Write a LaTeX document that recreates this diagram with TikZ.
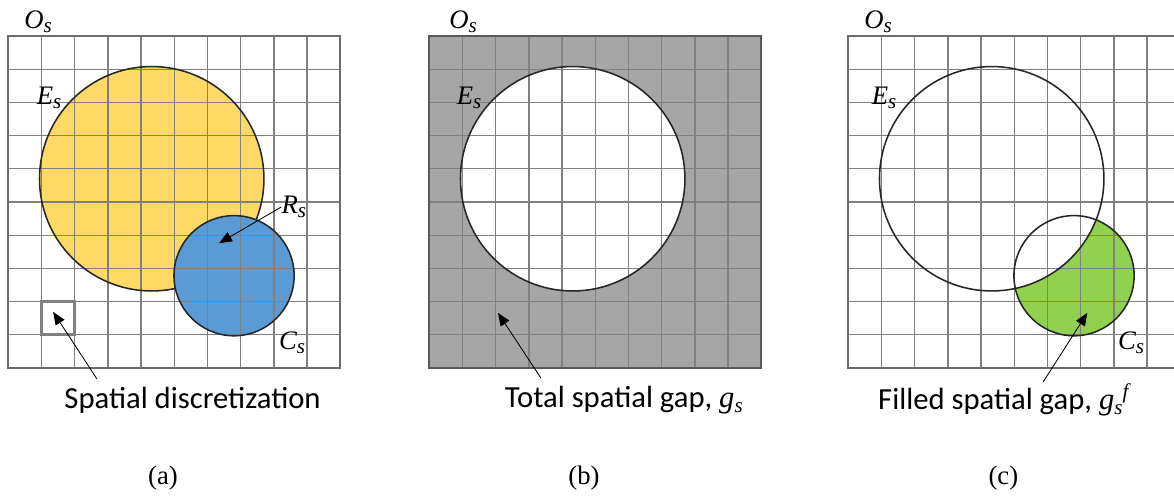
\documentclass[tikz,border=0pt]{standalone}
\usepackage{fontspec}
\setmainfont{Liberation Serif}
\newfontfamily\calib{Carlito}
\usepackage{xcolor}
\usetikzlibrary{arrows.meta,positioning}
\definecolor{gapyellow}{HTML}{FFD966}
\definecolor{gapblue}{HTML}{5B9BD5}
\definecolor{gapgreen}{HTML}{92D050}
\definecolor{gapgray}{HTML}{A6A6A6}
\definecolor{gridgray}{HTML}{808080}
\newcommand{\symb}[2]{{\rmfamily\itshape #1\raisebox{-0.35ex}{\fontsize{15}{15}\selectfont #2}}}
\newcommand{\symsup}[3]{{\rmfamily\itshape #1\raisebox{-0.35ex}{\fontsize{15}{15}\selectfont #2}\raisebox{0.75ex}{\fontsize{15}{15}\selectfont #3}}}

\begin{document}
\begin{tikzpicture}[x=0.83cm, y=0.83cm,
  gridline/.style={gridgray, line width=0.9pt, step={(1,1)}},
  rim/.style={black!85, line width=1.1pt},
  pointer/.style={-{Triangle[length=3.2mm, width=2.6mm]}, line width=0.6pt},
  sym/.style={font=\fontsize{19}{22}\selectfont, inner sep=0pt},
  captext/.style={font=\calib\fontsize{21.8}{24}\selectfont, inner sep=0pt},
  tag/.style={font=\fontsize{19}{22}\selectfont, inner sep=0pt}]
  \useasboundingbox (-0.25,-3.976) rectangle (35.111,11.084);
  \clip (-0.25,-3.976) rectangle (35.111,11.084);
  % E_s and C_s circles, grid units
  \def\ex{4.32} \def\ey{5.70} \def\er{3.38}
  \def\cx{6.80} \def\cy{2.78} \def\cr{1.81}
  % (a) discretization
  \begin{scope}
    \fill[gapyellow] (\ex,\ey) circle (\er);
    \draw[gridline] (0,0) grid (10,10);
    \draw[rim] (\ex,\ey) circle (\er);
    \fill[gapblue] (\cx,\cy) circle (\cr);
    \begin{scope}
      \clip (\cx,\cy) circle (\cr);
      \draw[gridline] (0,0) grid (10,10);
    \end{scope}
    \draw[rim] (\cx,\cy) circle (\cr);
    \draw[gridgray!85!black, line width=1.2pt] (0,0) rectangle (10,10);
    \draw[gray, line width=2.2pt] (1,1) rectangle (2,2);
    \node[sym] (oa) at (0.9,10.42) {\symb{O}{s}};
    \node[sym] (ea) at (1.23,8.13) {\symb{E}{s}};
    \node[sym] (ra) at (8.6,4.85) {\symb{R}{s}};
    \node[sym] (ca) at (8.55,0.75) {\symb{C}{s}};
    \node[captext] (da) at (5.55,-0.96) {Spatial discretization};
    \node[tag] (ta) at (4.66,-3.31) {(a)};
    \coordinate (ratip) at (6.35,3.76);
    \coordinate (datail) at (2.67,-0.33);
    \coordinate (datip) at (1.35,1.69);
    \draw[pointer] (ra.west) -- (ratip);
    \draw[pointer] (datail) -- (datip);
  \end{scope}
  % (b) total gap
  \begin{scope}[shift={(12.68,0)}]
    \fill[gapgray] (0,0) rectangle (10,10);
    \fill[white] (\ex,\ey) circle (\er);
    \draw[gridline] (0,0) grid (10,10);
    \draw[rim] (\ex,\ey) circle (\er);
    \draw[black!65, line width=1.2pt] (0,0) rectangle (10,10);
    \node[sym] (ob) at (1.02,10.42) {\symb{O}{s}};
    \node[sym] (eb) at (1.2,8.13) {\symb{E}{s}};
    \node[captext] (gb) at (5.86,-0.96) {Total spatial gap, \symb{g}{s}};
    \node[tag] (tb) at (4.66,-3.31) {(b)};
    \coordinate (gbtail) at (3.36,-0.3);
    \coordinate (gbtip) at (2.07,1.66);
    \draw[pointer] (gbtail) -- (gbtip);
  \end{scope}
  % (c) filled gap
  \begin{scope}[shift={(25.30,0)}]
    \fill[gapgreen] (\cx,\cy) circle (\cr);
    \fill[white] (\ex,\ey) circle (\er);
    \draw[gridline] (0,0) grid (10,10);
    \draw[rim] (\ex,\ey) circle (\er);
    \draw[rim] (\cx,\cy) circle (\cr);
    \draw[gridgray!85!black, line width=1.2pt] (0,0) rectangle (10,10);
    \node[sym] (oc) at (0.9,10.42) {\symb{O}{s}};
    \node[sym] (ec) at (1.08,8.13) {\symb{E}{s}};
    \node[sym] (cc) at (8.52,0.75) {\symb{C}{s}};
    \node[captext] (gc) at (4.67,-0.96) {Filled spatial gap, \symsup{g}{s}{f}};
    \node[tag] (tc) at (4.67,-3.31) {(c)};
    \coordinate (gctail) at (5.87,-0.42);
    \coordinate (gctip) at (7.2,1.66);
    \draw[pointer] (gctail) -- (gctip);
  \end{scope}
\end{tikzpicture}
\end{document}
